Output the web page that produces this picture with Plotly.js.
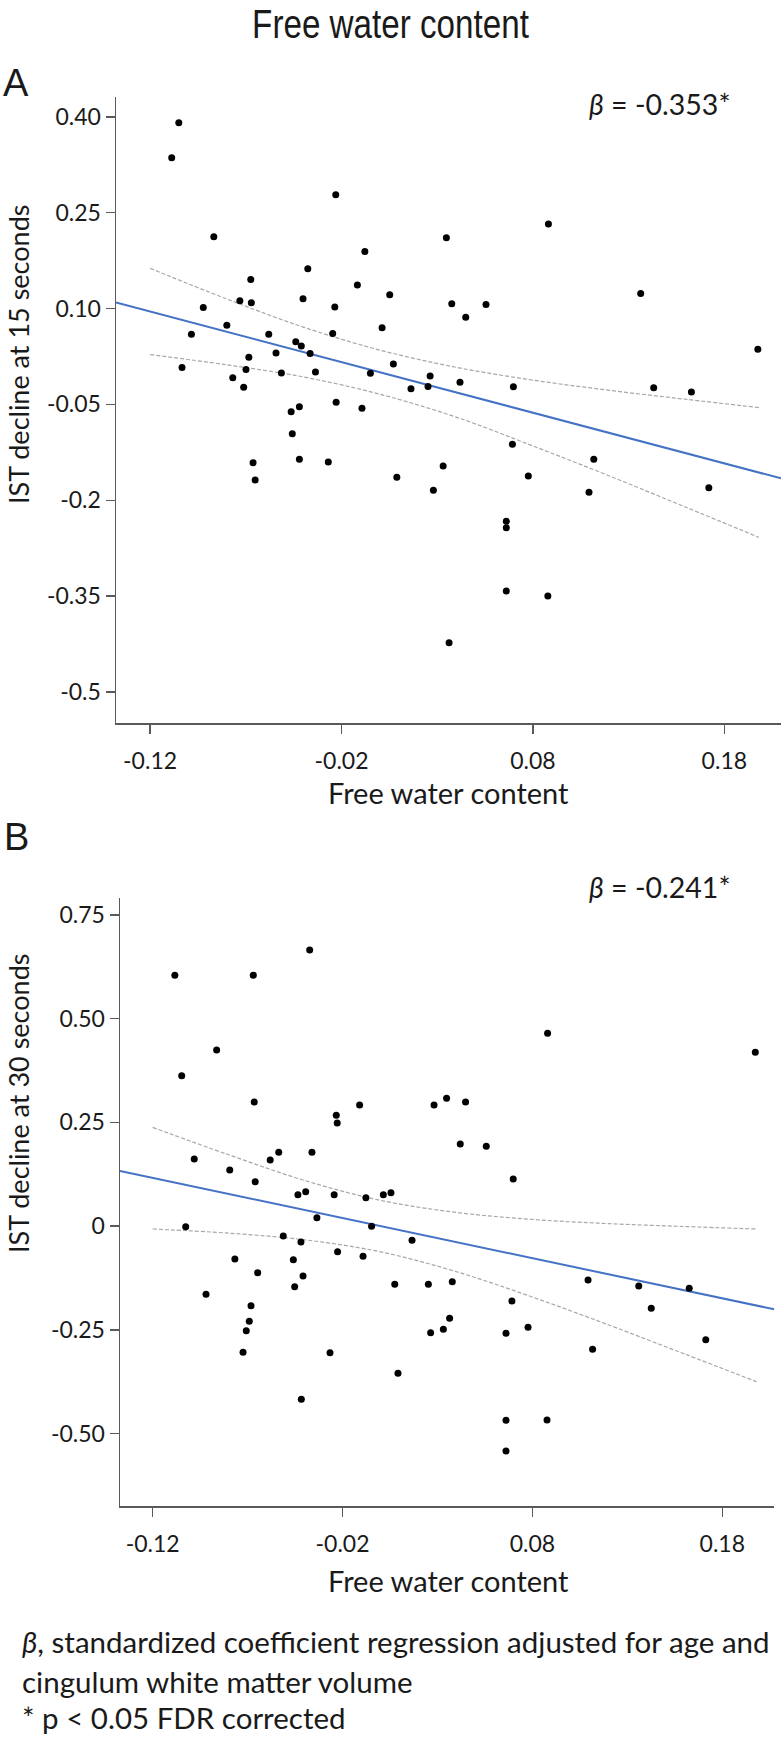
<!DOCTYPE html>
<html>
<head>
<meta charset="utf-8">
<script src="https://cdn.plot.ly/plotly-3.0.1.min.js"></script>
<style>
  html, body { margin: 0; padding: 0; background: #ffffff; }
  #chart { width: 781px; height: 1739px; }
</style>
</head>
<body>
<div id="chart"></div>
<script>
// ---------- Data ----------
// Panel A: IST decline at 15 seconds vs free water content
const fwcA = [-0.1050, -0.1087, -0.0230, -0.0867, -0.0078, -0.0376, -0.0674, -0.0117, 0.0052, -0.0731,
              -0.0671, -0.0401, -0.0922, -0.0235, -0.0799, 0.0012, -0.0984, -0.0580, -0.0246, -0.0439,
              -0.0410, -0.0364, -0.0542, -0.0684, 0.0071, -0.1033, -0.0699, -0.0514, -0.0336, -0.0049,
              0.0263, -0.0768, 0.0252, -0.0711, 0.0163, -0.0228, -0.0420, -0.0093, -0.0463, -0.0457,
              -0.0662, -0.0420, -0.0269, 0.0881, 0.0348, 0.0376, 0.0449, 0.0555, 0.1363, 0.1975,
              0.0419, 0.0698, 0.1431, 0.1628, 0.0693, 0.1118, 0.0331, -0.0651, 0.0089, 0.0280,
              0.0776, 0.1093, 0.1719, 0.0661, 0.0661, 0.0661, 0.0878, 0.0362];
const istA = [0.3906, 0.3359, 0.2780, 0.2123, 0.1894, 0.1622, 0.1456, 0.1367, 0.1215, 0.1121,
              0.1090, 0.1153, 0.1018, 0.1023, 0.0737, 0.0699, 0.0596, 0.0596, 0.0611, 0.0480,
              0.0413, 0.0298, 0.0303, 0.0236, 0.0131, 0.0079, 0.0048, -0.0010, 0.0006, -0.0014,
              -0.0057, -0.0083, -0.0218, -0.0233, -0.0255, -0.0468, -0.0537, -0.0562, -0.0615, -0.0959,
              -0.1413, -0.1360, -0.1402, 0.2321, 0.2107, 0.1074, 0.0862, 0.1065, 0.1237, 0.0361,
              -0.0155, -0.0224, -0.0240, -0.0307, -0.1125, -0.1360, -0.1465, -0.1684, -0.1641, -0.1845,
              -0.1621, -0.1876, -0.1804, -0.2330, -0.2430, -0.3420, -0.3498, -0.4229];

// Panel B: IST decline at 30 seconds vs free water content
const fwcB = [-0.0373, -0.1083, -0.0670, -0.0863, -0.1047, -0.0665, -0.0110, 0.0282, -0.0233, -0.0228,
              -0.0981, -0.0536, -0.0361, -0.0581, -0.0794, -0.0660, -0.0435, -0.0394, -0.0244, -0.0077,
              0.0015, 0.0055, -0.0335, -0.1026, -0.0047, -0.0512, 0.0166, -0.0419, -0.0226, -0.0767,
              -0.0459, -0.0092, -0.0647, -0.0408, 0.0075, 0.0252, -0.0452, -0.0919, 0.0880, 0.1974,
              0.0348, 0.0448, 0.0420, 0.0557, 0.0699, 0.0378, 0.1093, 0.1360, 0.1626, -0.0682,
              -0.0691, -0.0707, -0.0724, -0.0266, 0.0264, 0.0092, -0.0417, 0.0364, 0.0331, 0.0692,
              0.1426, 0.0661, 0.0777, 0.1117, 0.1713, 0.0661, 0.0877, 0.0661];
const istB = [0.6656, 0.6046, 0.6046, 0.4245, 0.3626, 0.2992, 0.2919, 0.2919, 0.2671, 0.2486,
              0.1618, 0.1779, 0.1779, 0.1593, 0.1352, 0.1070, 0.0757, 0.0829, 0.0757, 0.0685,
              0.0757, 0.0805, 0.0202, -0.0014, -0.0005, -0.0239, -0.0342, -0.0383, -0.0617, -0.0793,
              -0.0810, -0.0728, -0.1123, -0.1203, -0.1403, -0.1403, -0.1461, -0.1644, 0.4648, 0.4190,
              0.3081, 0.2992, 0.1979, 0.1924, 0.1135, -0.1340, -0.1300, -0.1444, -0.1500, -0.1919,
              -0.2295, -0.2522, -0.3043, -0.3052, -0.2570, -0.3549, -0.4176, -0.2223, -0.2488, -0.1806,
              -0.1982, -0.2585, -0.2440, -0.2970, -0.2739, -0.4682, -0.4674, -0.5422];

// Regression lines (end points)
const fitAx = [-0.1378, 0.2096];
const fitAy = [0.1096, -0.1657];
const fitBx = [-0.1372, 0.2074];
const fitBy = [0.1328, -0.2006];

// 95% confidence bands
const ciX = [-0.120, -0.080, -0.040, 0.000, 0.040, 0.080, 0.120, 0.160, 0.198];
const ciAUpper = [0.163, 0.115, 0.071, 0.035, 0.008, -0.012, -0.028, -0.042, -0.055];
const ciALower = [0.028, 0.012, -0.007, -0.034, -0.070, -0.115, -0.162, -0.211, -0.258];
const ciBUpper = [0.238, 0.172, 0.110, 0.062, 0.033, 0.016, 0.006, -0.001, -0.007];
const ciBLower = [-0.007, -0.017, -0.033, -0.062, -0.110, -0.171, -0.238, -0.308, -0.375];

// Tick labels
const xTickVals = [-0.12, -0.02, 0.08, 0.18];
const xTickText = ["-0.12", "-0.02", "0.08", "0.18"];
const yATickVals = [0.40, 0.25, 0.10, -0.05, -0.20, -0.35, -0.50];
const yATickText = ["0.40", "0.25", "0.10", "-0.05", "-0.2", "-0.35", "-0.5"];
const yBTickVals = [0.75, 0.50, 0.25, 0, -0.25, -0.50];
const yBTickText = ["0.75", "0.50", "0.25", "0", "-0.25", "-0.50"];

// Texts
const mainTitle = "Free water content";
const xTitle = "Free water content";
const yATitle = "IST decline at 15 seconds";
const yBTitle = "IST decline at 30 seconds";
const betaA = "<i>β</i> = -0.353*";
const betaB = "<i>β</i> = -0.241*";
const foot1 = "<i>β</i>, standardized coefficient regression adjusted for age and";
const foot2 = "cingulum white matter volume";
const foot3 = "* p &lt; 0.05 FDR corrected";

// ---------- Drawing ----------
const W = 781, H = 1739;
const px = v => v / W;          // page x (px) -> paper
const py = v => 1 - v / H;      // page y (px) -> paper

const UI = "Lato, 'Open Sans', sans-serif";
const ink = "#1a1a1a";
const axisCol = "#5a5a5a";

const dotStyle = { color: "#000000", size: 7 };
const fitStyle = { color: "#4472C4", width: 2 };
const ciStyle = { color: "#a8a8a8", width: 1.2, dash: "4px,2px", shape: "spline" };

const traces = [
  { x: ciX, y: ciAUpper, xaxis: "x", yaxis: "y", mode: "lines", line: ciStyle, hoverinfo: "skip" },
  { x: ciX, y: ciALower, xaxis: "x", yaxis: "y", mode: "lines", line: ciStyle, hoverinfo: "skip" },
  { x: fitAx, y: fitAy, xaxis: "x", yaxis: "y", mode: "lines", line: fitStyle, hoverinfo: "skip" },
  { x: fwcA, y: istA, xaxis: "x", yaxis: "y", mode: "markers", marker: dotStyle },
  { x: ciX, y: ciBUpper, xaxis: "x2", yaxis: "y2", mode: "lines", line: ciStyle, hoverinfo: "skip" },
  { x: ciX, y: ciBLower, xaxis: "x2", yaxis: "y2", mode: "lines", line: ciStyle, hoverinfo: "skip" },
  { x: fitBx, y: fitBy, xaxis: "x2", yaxis: "y2", mode: "lines", line: fitStyle, hoverinfo: "skip" },
  { x: fwcB, y: istB, xaxis: "x2", yaxis: "y2", mode: "markers", marker: dotStyle }
];

const axisBase = {
  showgrid: false, zeroline: false, showline: true,
  linecolor: axisCol, linewidth: 1.5,
  ticks: "outside", ticklen: 9, tickwidth: 1.5, tickcolor: axisCol,
  tickfont: { family: UI, size: 23, color: ink },
  tickmode: "array", fixedrange: true
};

const layout = {
  width: W, height: H,
  margin: { l: 0, r: 0, t: 0, b: 0 },
  paper_bgcolor: "#ffffff", plot_bgcolor: "#ffffff",
  showlegend: false,
  title: {
    text: mainTitle, x: 0.5, xanchor: "center", y: py(24), yanchor: "middle",
    font: { family: "'Liberation Sans', Arial, sans-serif", size: 40, color: ink }
  },
  xaxis: Object.assign({}, axisBase, {
    domain: [px(116), px(781)], range: [-0.1378, 0.2096], anchor: "y",
    tickvals: xTickVals, ticktext: xTickText, ticklabelstandoff: 8
  }),
  yaxis: Object.assign({}, axisBase, {
    domain: [py(723.3), py(97)], range: [-0.549, 0.431], anchor: "x",
    tickvals: yATickVals, ticktext: yATickText
  }),
  xaxis2: Object.assign({}, axisBase, {
    domain: [px(120), px(774.3)], range: [-0.1372, 0.2074], anchor: "y2",
    tickvals: xTickVals, ticktext: xTickText, ticklabelstandoff: 8
  }),
  yaxis2: Object.assign({}, axisBase, {
    domain: [py(1506), py(898)], range: [-0.6748, 0.791], anchor: "x2",
    tickvals: yBTickVals, ticktext: yBTickText
  }),
  annotations: [
    { text: "A", x: px(16), y: py(83), xref: "paper", yref: "paper", xanchor: "center", yanchor: "middle",
      showarrow: false, font: { family: "'Liberation Sans', Arial, sans-serif", size: 38, color: ink } },
    { text: "B", x: px(16), y: py(837), xref: "paper", yref: "paper", xanchor: "center", yanchor: "middle",
      showarrow: false, font: { family: "'Liberation Sans', Arial, sans-serif", size: 38, color: ink } },
    { text: betaA, x: px(587), y: py(104), xref: "paper", yref: "paper", xanchor: "left", yanchor: "middle",
      showarrow: false, font: { family: UI, size: 28.5, color: ink } },
    { text: betaB, x: px(587), y: py(887), xref: "paper", yref: "paper", xanchor: "left", yanchor: "middle",
      showarrow: false, font: { family: UI, size: 28.5, color: ink } },
    { text: yATitle, x: px(18), y: py(355), xref: "paper", yref: "paper", xanchor: "center", yanchor: "middle",
      textangle: -90, showarrow: false, font: { family: UI, size: 27, color: ink } },
    { text: yBTitle, x: px(18), y: py(1104), xref: "paper", yref: "paper", xanchor: "center", yanchor: "middle",
      textangle: -90, showarrow: false, font: { family: UI, size: 27, color: ink } },
    { text: xTitle, x: px(448), y: py(792), xref: "paper", yref: "paper", xanchor: "center", yanchor: "middle",
      showarrow: false, font: { family: UI, size: 29, color: ink } },
    { text: xTitle, x: px(448), y: py(1580), xref: "paper", yref: "paper", xanchor: "center", yanchor: "middle",
      showarrow: false, font: { family: UI, size: 29, color: ink } },
    { text: foot1, x: px(20), y: py(1641), xref: "paper", yref: "paper", xanchor: "left", yanchor: "middle",
      showarrow: false, font: { family: UI, size: 29.5, color: ink } },
    { text: foot2, x: px(20), y: py(1681), xref: "paper", yref: "paper", xanchor: "left", yanchor: "middle",
      showarrow: false, font: { family: UI, size: 29.5, color: ink } },
    { text: foot3, x: px(20), y: py(1717), xref: "paper", yref: "paper", xanchor: "left", yanchor: "middle",
      showarrow: false, font: { family: UI, size: 29.5, color: ink } }
  ]
};

Plotly.newPlot("chart", traces, layout, { staticPlot: true, displayModeBar: false }).then(gd => {
  // the reference title is set in a condensed face: narrow the real text horizontally
  const t = gd.querySelector(".gtitle");
  if (t) {
    const b = t.getBBox();
    const s = 0.83, cx = b.x + b.width / 2;
    t.setAttribute("transform", `translate(${cx * (1 - s)},0) scale(${s},1)`);
  }
});
</script>
</body>
</html>
